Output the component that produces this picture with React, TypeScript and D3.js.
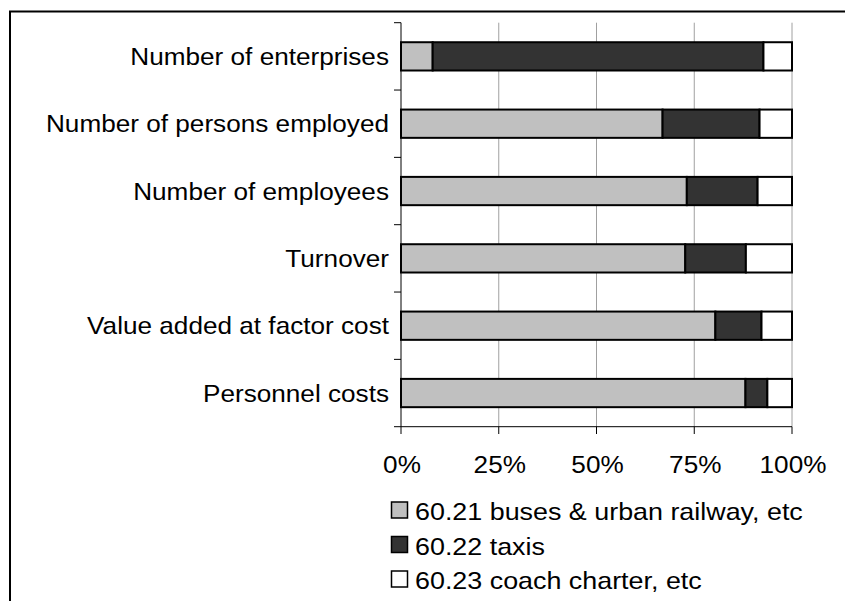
import { useEffect, useRef } from 'react'
import * as d3 from 'd3'

const categories = [
  'Number of enterprises',
  'Number of persons employed',
  'Number of employees',
  'Turnover',
  'Value added at factor cost',
  'Personnel costs',
]
const seriesNames = ['60.21 buses & urban railway, etc', '60.22 taxis', '60.23 coach charter, etc']
const buses = [8.1, 66.9, 73.1, 72.7, 80.4, 88.1]
const taxis = [84.6, 24.8, 18.1, 15.5, 11.8, 5.6]
const coach = [7.3, 8.3, 8.8, 11.8, 7.8, 6.3]
const colors = ['#c0c0c0', '#333333', '#ffffff']
const xTicks = [0, 25, 50, 75, 100]

const W = 845
const H = 601
const FONT = '"Liberation Sans", Arial, sans-serif'

const App = () => {
  const ref = useRef<SVGSVGElement>(null)

  useEffect(() => {
    if (!ref.current) return
    const svg = d3.select(ref.current)
    svg.selectAll('*').remove()

    const x = d3.scaleLinear().domain([0, 100]).range([401, 792])
    const y = d3.scaleBand<string>().domain(categories).range([22.7, 426.7]).padding(0)
    const barH = y.bandwidth() * 0.42

    const rows = categories.map((c, i) => ({ cat: c, s0: buses[i], s1: taxis[i], s2: coach[i] }))
    const stack = d3.stack<any>().keys(['s0', 's1', 's2'])(rows)

    // frame (open at right and bottom, runs off the picture)
    svg.append('rect')
      .attr('x', 10).attr('y', 11.5)
      .attr('width', W + 20).attr('height', H + 20)
      .attr('fill', 'none').attr('stroke', '#000').attr('stroke-width', 2)

    // gridlines
    svg.append('g')
      .selectAll('line')
      .data(xTicks.slice(1))
      .join('line')
        .attr('x1', d => x(d)).attr('x2', d => x(d))
        .attr('y1', 22.7).attr('y2', 426.7)
        .attr('stroke', '#a0a0a0').attr('stroke-width', 1)

    // bars
    svg.append('g')
      .selectAll('g')
      .data(stack)
      .join('g')
        .attr('fill', (_, i) => colors[i])
      .selectAll('rect')
      .data(d => d)
      .join('rect')
        .attr('x', d => x(d[0]))
        .attr('width', d => x(d[1]) - x(d[0]))
        .attr('y', d => y(d.data.cat)! + (y.bandwidth() - barH) / 2)
        .attr('height', barH)
        .attr('stroke', '#000').attr('stroke-width', 2)

    // y axis
    const yb = [...categories.map(c => y(c)!), 426.7]
    svg.append('line')
      .attr('x1', 401).attr('x2', 401).attr('y1', 22.7).attr('y2', 426.7)
      .attr('stroke', '#000')
    svg.append('g')
      .selectAll('line')
      .data(yb)
      .join('line')
        .attr('x1', 394).attr('x2', 401)
        .attr('y1', d => d).attr('y2', d => d)
        .attr('stroke', '#000')

    // x axis
    svg.append('line')
      .attr('x1', 401).attr('x2', 792).attr('y1', 426.7).attr('y2', 426.7)
      .attr('stroke', '#000')
    svg.append('g')
      .selectAll('line')
      .data(xTicks)
      .join('line')
        .attr('x1', d => x(d)).attr('x2', d => x(d))
        .attr('y1', 426.7).attr('y2', 434)
        .attr('stroke', '#000')

    const txt = (g: any, tx: number, ty: number, s: string, anchor: string, sx = 1.09) =>
      g.append('text')
        .attr('transform', `translate(${tx},${ty}) scale(${sx},1)`)
        .attr('text-anchor', anchor)
        .attr('font-family', FONT)
        .attr('font-size', 24)
        .attr('fill', '#000')
        .text(s)

    // category labels
    categories.forEach(c => txt(svg, 389, y(c)! + y.bandwidth() / 2 + 8.5, c, 'end'))

    // tick labels
    xTicks.forEach(t => txt(svg, x(t) + 1, 473, `${t}%`, 'middle'))

    // legend
    seriesNames.forEach((s, i) => {
      const base = 520 + i * 34.5
      svg.append('rect')
        .attr('x', 391.5).attr('y', base - 18)
        .attr('width', 16).attr('height', 16)
        .attr('fill', colors[i]).attr('stroke', '#000').attr('stroke-width', 1.5)
      txt(svg, 415, base, s, 'start', 1.12)
    })

    return () => {
      d3.select(ref.current).selectAll('*').remove()
    }
  }, [])

  return (
    <svg
      ref={ref}
      width={W}
      height={H}
      style={{ position: 'absolute', left: 0, top: 0, background: '#fff' }}
    />
  )
}

export default App
